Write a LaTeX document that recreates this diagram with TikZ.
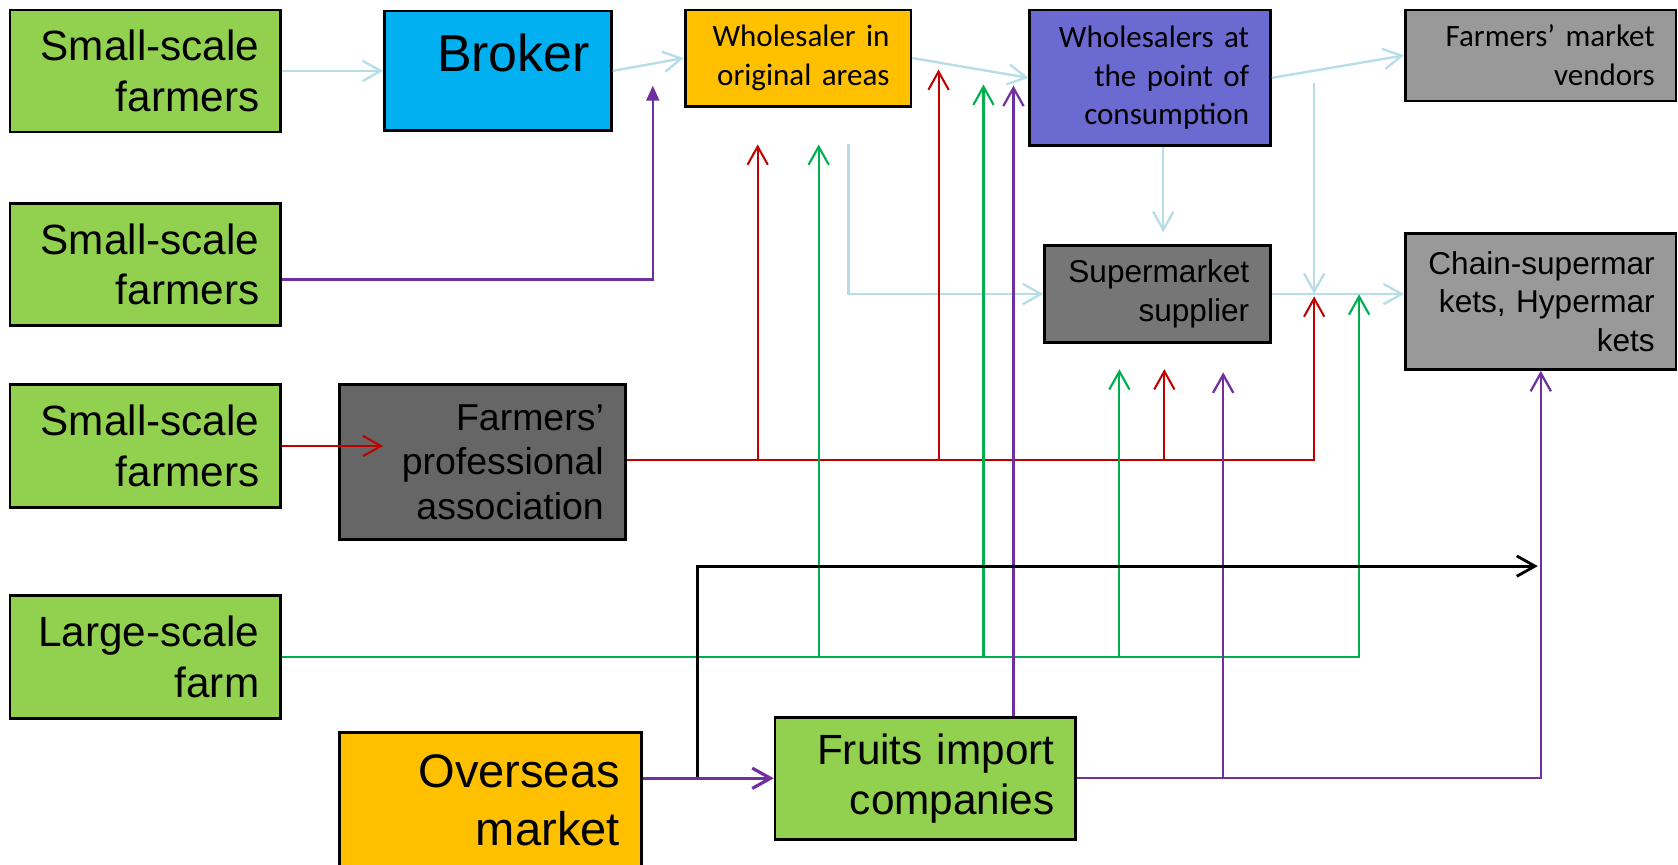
\documentclass[tikz,border=0pt]{standalone}
\usepackage{fontspec}
\setmainfont{Liberation Sans}
\newfontfamily\calibri{Carlito}
\usetikzlibrary{arrows.meta}
\definecolor{cgreen}{HTML}{92D050}
\definecolor{ccyan}{HTML}{00B0F0}
\definecolor{corange}{HTML}{FFC000}
\definecolor{cviolet}{RGB}{107,106,208}
\definecolor{cgrayA}{HTML}{999999}
\definecolor{cgrayB}{HTML}{767676}
\definecolor{cgrayC}{HTML}{666666}
\definecolor{clb}{HTML}{B7DEE8}
\definecolor{cpu}{HTML}{7030A0}
\definecolor{crd}{HTML}{C00000}
\definecolor{cgr}{HTML}{00B050}
\begin{document}
\begin{tikzpicture}[x=1pt,y=-1pt,
  box/.style={draw=black, line width=2.5pt, rectangle, anchor=north west,
    inner xsep=20pt, inner ysep=0pt, align=right, text=black},
  fA/.style={font=\fontsize{39.5}{47}\selectfont},
  fC/.style={font=\calibri\fontsize{29}{36}\selectfont},
  fS/.style={font=\fontsize{29.5}{36}\selectfont},
  barb/.style={-{Straight Barb[length=17pt,width=19pt]}},
  lb/.style={draw=clb, line width=2.2pt, barb},
  pu/.style={draw=cpu, line width=2.1pt, barb},
  puthick/.style={draw=cpu, line width=3pt, barb},
  rd/.style={draw=crd, line width=1.9pt, barb},
  gr/.style={draw=cgr, line width=2pt, barb},
  bk/.style={draw=black, line width=2.6pt, barb}
]
\useasboundingbox (0,0) rectangle (1568,808);
\clip (0,0) rectangle (1568,808);

% boxes
\node[box, fill=cgreen, fA, minimum width=253pt, minimum height=114pt, text width=213pt] (ssf1) at (8,8) {Small-scale\\farmers};
\node[box, fill=ccyan, font=\fontsize{48.5}{56}\selectfont, minimum width=212pt, minimum height=112pt, text width=172pt, text height=35pt, text depth=34pt] (broker) at (358,9) {Broker};
\node[box, fill=corange, fC, minimum width=211pt, minimum height=90pt, text width=171pt] (woa) at (639,8) {Wholesaler in\\original areas};
\node[box, fill=cviolet, fC, minimum width=225pt, minimum height=127pt, text width=185pt] (wpc) at (961,8) {Wholesalers at\\the point of\\consumption};
\node[box, fill=cgrayA, fC, minimum width=253pt, minimum height=85pt, text width=213pt] (fmv) at (1312,8) {Farmers’ market\\vendors};
\node[box, fill=cgreen, fA, minimum width=253pt, minimum height=114pt, text width=213pt] (ssf2) at (8,189) {Small-scale\\farmers};
\node[box, fill=cgrayB, fS, minimum width=211pt, minimum height=91pt, text width=171pt] (ss) at (975,228) {Supermarket\\supplier};
\node[box, fill=cgrayA, fS, minimum width=253pt, minimum height=127pt, text width=213pt] (chain) at (1312,217) {Chain-supermar\\kets, Hypermar\\kets};
\node[box, fill=cgreen, fA, minimum width=253pt, minimum height=115pt, text width=213pt] (ssf3) at (8,358) {Small-scale\\farmers};
\node[box, fill=cgrayC, font=\fontsize{35}{41.5}\selectfont, minimum width=267pt, minimum height=145pt, text width=227pt] (fpa) at (316,358) {Farmers’\\professional\\association};
\node[box, fill=cgreen, fA, minimum width=253pt, minimum height=115pt, text width=213pt] (lsf) at (8,555) {Large-scale\\farm};
\node[box, fill=corange, font=\fontsize{44}{53.6}\selectfont, minimum width=282pt, minimum height=127pt, text width=242pt] (om) at (316,683) {Overseas\\market};
\node[box, fill=cgreen, fA, minimum width=281pt, minimum height=114pt, text width=241pt] (fic) at (723,669) {Fruits import\\companies};

% coordinates for free ends
\coordinate (lbEnd) at (1087,217);
\coordinate (lbA) at (793,135);
\coordinate (lbB) at (1228,78);
\coordinate (puA) at (610,80);
\coordinate (puB) at (947,80);
\coordinate (puC) at (1143,348);
\coordinate (bkA) at (652,726);
\coordinate (bkB) at (1437,529);
\coordinate (rdA) at (358,416);
\coordinate (rdB) at (1228,277);
\coordinate (rY) at ([yshift=2pt]fpa.east);
\coordinate (rx1) at (708,135);
\coordinate (rx2) at (877,65);
\coordinate (rx3) at (1088,345);
\coordinate (gA) at (1270,275);
\coordinate (gx1) at (765,135);
\coordinate (gx2) at (919,79);
\coordinate (gx3) at (1046,345);

% light blue
\draw[lb] (ssf1) -- (broker);
\draw[lb] (broker.east) -- (woa.west);
\draw[lb] (woa.east) -- (wpc.west);
\draw[lb] (wpc.east) -- (fmv.west);
\draw[lb] (wpc.south -| lbEnd) -- (lbEnd);
\draw[lb] (lbA) |- (ss.west);
\draw[lb] (ss.east) -- (ss.east -| chain.west);
\draw[lb] (lbB) -- (lbB |- ss.east);

% red
\draw[rd] (ssf3.east) -- (ssf3.east -| rdA);
\draw[rd] (rY) -| (rdB);
\draw[rd] (rx1 |- rY) -- (rx1);
\draw[rd] (rx2 |- rY) -- (rx2);
\draw[rd] (rx3 |- rY) -- (rx3);

% green
\draw[gr] (lsf.east) -| (gA);
\draw[gr] (gx1 |- lsf.east) -- (gx1);
\draw[gr] (gx2 |- lsf.east) -- (gx2);
\draw[gr] (gx3 |- lsf.east) -- (gx3);

% purple
\draw[draw=cpu, line width=2.1pt, -{Triangle[length=14pt,width=12pt]}] ([yshift=-14pt]ssf2.east) -| (puA);
\draw[puthick] (om.east |- fic.west) -- (fic.west);
\draw[pu] (puB |- fic.north) -- (puB);
\draw[pu] (fic.east) -| (chain.south);
\draw[pu] (puC |- fic.east) -- (puC);

% black
\draw[bk] (bkA) |- (bkB);
\end{tikzpicture}
\end{document}
